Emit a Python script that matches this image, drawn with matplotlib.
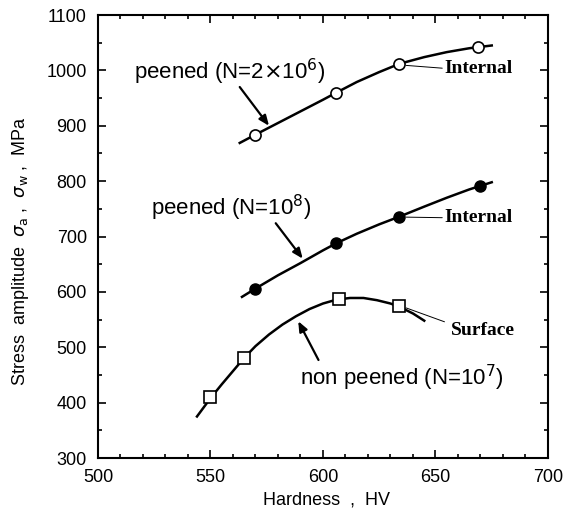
import matplotlib
matplotlib.use("Agg")
import matplotlib.pyplot as plt
from matplotlib.ticker import MultipleLocator

# measured points (hardness HV, stress MPa)
hv_2e6 = [570, 606, 634, 669]
s_2e6 = [884, 960, 1012, 1042]
hv_1e8 = [570, 606, 634, 670]
s_1e8 = [606, 688, 736, 792]
hv_np = [550, 565, 607, 634]
s_np = [411, 481, 587, 574]

# fitted curves
curve_2e6_x = [563, 570, 580, 590, 600, 606, 615, 625, 634, 645, 655, 665, 675]
curve_2e6_y = [869, 884, 905, 926, 947, 960, 979, 997, 1012, 1024, 1033, 1040, 1045]
curve_1e8_x = [564, 570, 580, 590, 600, 606, 615, 625, 634, 645, 655, 665, 675]
curve_1e8_y = [591, 606, 630, 652, 675, 688, 705, 722, 736, 754, 770, 785, 798]
curve_np_x = [544, 550, 555, 560, 565, 570, 576, 582, 588, 594, 600, 606, 612, 618, 624, 630, 634, 640, 645]
curve_np_y = [375, 408, 433, 457, 481, 502, 523, 541, 556, 569, 579, 586, 589, 589, 585, 579, 573, 561, 548]

serif = ["Liberation Serif", "DejaVu Serif"]
sans = ["Liberation Sans", "DejaVu Sans"]
plt.rcParams["font.family"] = sans

fig = plt.figure(figsize=(5.71, 5.11), dpi=100)
ax = fig.add_axes([0.1716, 0.1037, 0.7881, 0.8669])

ax.plot(curve_2e6_x, curve_2e6_y, color="black", lw=1.8, zorder=2)
ax.plot(curve_1e8_x, curve_1e8_y, color="black", lw=1.8, zorder=2)
ax.plot(curve_np_x, curve_np_y, color="black", lw=1.8, zorder=2)

ax.plot(hv_2e6, s_2e6, "o", ms=8, mfc="white", mec="black", mew=1.2, zorder=3)
ax.plot(hv_1e8, s_1e8, "o", ms=8, mfc="black", mec="black", zorder=3)
ax.plot(hv_np, s_np, "s", ms=8, mfc="white", mec="black", mew=1.2, zorder=3)

arrow = dict(arrowstyle="-|>,head_length=0.6,head_width=0.25", color="black", lw=1.6, shrinkA=0, shrinkB=0)
ax.annotate("", xy=(576, 900), xytext=(563, 970), arrowprops=arrow)
ax.annotate("", xy=(591, 660), xytext=(579, 724), arrowprops=arrow)
ax.annotate("", xy=(589, 547), xytext=(598, 477), arrowprops=arrow)

ax.text(558.5, 997, r"peened (N=2$\times$10$^{6}$)", fontsize=16, ha="center", va="center")
ax.text(559, 752, r"peened (N=10$^{8}$)", fontsize=16, ha="center", va="center")
ax.text(635, 445, r"non peened (N=10$^{7}$)", fontsize=16, ha="center", va="center")

# leader lines to the failure-origin notes
thin = dict(arrowstyle="-", color="black", lw=0.7, shrinkA=0, shrinkB=0)
ax.annotate("", xy=(637, 1009), xytext=(653, 1004), arrowprops=thin)
ax.annotate("", xy=(637, 735), xytext=(653, 734), arrowprops=thin)
ax.annotate("", xy=(637, 571), xytext=(654, 546), arrowprops=thin)
ax.text(654, 1004, "Internal", fontsize=14, fontweight="bold", family=serif, va="center")
ax.text(654, 734, "Internal", fontsize=14, fontweight="bold", family=serif, va="center")
ax.text(657, 531, "Surface", fontsize=14, fontweight="bold", family=serif, va="center")

ax.set_xlim(500, 700)
ax.set_ylim(300, 1100)
ax.xaxis.set_major_locator(MultipleLocator(50))
ax.xaxis.set_minor_locator(MultipleLocator(10))
ax.yaxis.set_major_locator(MultipleLocator(100))
ax.yaxis.set_minor_locator(MultipleLocator(50))
ax.tick_params(which="both", direction="in", top=True, right=True, width=1.2)
ax.tick_params(which="major", length=6, labelsize=13, pad=8)
ax.tick_params(which="minor", length=3)
for sp in ax.spines.values():
    sp.set_linewidth(1.5)

ax.set_xlabel("Hardness  ,  HV", fontsize=13)
ax.set_ylabel(r"Stress  amplitude  $\sigma_{\rm a}$ ,  $\sigma_{\rm w}$ ,  MPa", fontsize=13)
ax.xaxis.set_label_coords(0.507, -0.075)
ax.yaxis.set_label_coords(-0.148, 0.467)

fig.savefig("out.png", dpi=100)
